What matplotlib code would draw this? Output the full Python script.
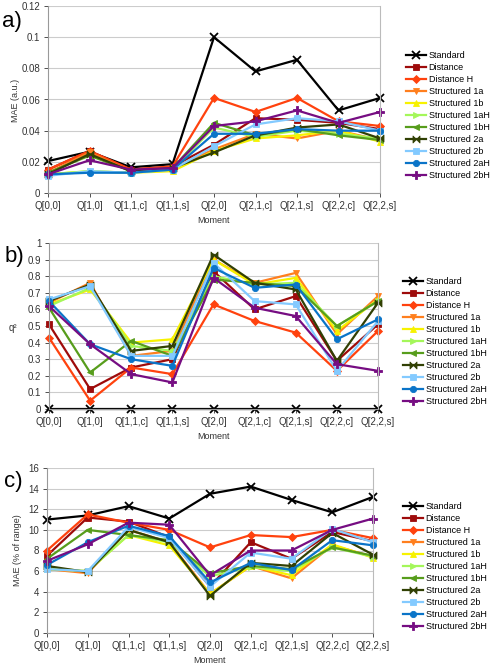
import matplotlib
matplotlib.use("Agg")
import matplotlib.pyplot as plt
from matplotlib.path import Path
from matplotlib.ticker import FuncFormatter

plt.rcParams["font.family"] = ["Liberation Sans", "DejaVu Sans"]

moments = ["Q[0,0]", "Q[1,0]", "Q[1,1,c]", "Q[1,1,s]", "Q[2,0]",
           "Q[2,1,c]", "Q[2,1,s]", "Q[2,2,c]", "Q[2,2,s]"]
series_names = ["Standard", "Distance", "Distance H", "Structured 1a",
                "Structured 1b", "Structured 1aH", "Structured 1bH",
                "Structured 2a", "Structured 2b", "Structured 2aH",
                "Structured 2bH"]

# Panel a: MAE (a.u.)
mae_au = {
    "Standard":       [0.0205, 0.0265, 0.0165, 0.0185, 0.100, 0.078, 0.0855, 0.053, 0.061],
    "Distance":       [0.015, 0.027, 0.015, 0.017, 0.031, 0.048, 0.047, 0.045, 0.041],
    "Distance H":     [0.015, 0.027, 0.015, 0.017, 0.061, 0.052, 0.061, 0.046, 0.043],
    "Structured 1a":  [0.013, 0.026, 0.014, 0.016, 0.028, 0.038, 0.035, 0.040, 0.034],
    "Structured 1b":  [0.012, 0.014, 0.013, 0.014, 0.027, 0.035, 0.037, 0.040, 0.033],
    "Structured 1aH": [0.012, 0.014, 0.013, 0.015, 0.042, 0.036, 0.040, 0.038, 0.035],
    "Structured 1bH": [0.013, 0.024, 0.014, 0.016, 0.045, 0.037, 0.041, 0.037, 0.034],
    "Structured 2a":  [0.012, 0.025, 0.014, 0.016, 0.026, 0.037, 0.042, 0.044, 0.035],
    "Structured 2b":  [0.011, 0.014, 0.013, 0.015, 0.030, 0.044, 0.048, 0.046, 0.040],
    "Structured 2aH": [0.012, 0.013, 0.013, 0.015, 0.038, 0.038, 0.041, 0.040, 0.040],
    "Structured 2bH": [0.012, 0.021, 0.015, 0.016, 0.043, 0.046, 0.053, 0.045, 0.052],
}

# Panel b: q^2
q2 = {
    "Standard":       [0, 0, 0, 0, 0, 0, 0, 0, 0],
    "Distance":       [0.51, 0.12, 0.25, 0.30, 0.83, 0.60, 0.68, 0.29, 0.51],
    "Distance H":     [0.43, 0.05, 0.25, 0.21, 0.63, 0.53, 0.46, 0.23, 0.47],
    "Structured 1a":  [0.64, 0.76, 0.32, 0.35, 0.90, 0.76, 0.82, 0.45, 0.68],
    "Structured 1b":  [0.63, 0.72, 0.40, 0.42, 0.90, 0.75, 0.79, 0.47, 0.66],
    "Structured 1aH": [0.62, 0.73, 0.38, 0.35, 0.80, 0.75, 0.76, 0.50, 0.65],
    "Structured 1bH": [0.61, 0.22, 0.41, 0.32, 0.78, 0.76, 0.74, 0.50, 0.65],
    "Structured 2a":  [0.65, 0.75, 0.35, 0.38, 0.93, 0.76, 0.72, 0.29, 0.64],
    "Structured 2b":  [0.66, 0.74, 0.32, 0.32, 0.88, 0.65, 0.63, 0.23, 0.53],
    "Structured 2aH": [0.65, 0.39, 0.30, 0.26, 0.85, 0.73, 0.75, 0.42, 0.54],
    "Structured 2bH": [0.62, 0.39, 0.21, 0.16, 0.79, 0.61, 0.56, 0.27, 0.23],
}

# Panel c: MAE (% of range)
mae_pct = {
    "Standard":       [11.0, 11.4, 12.3, 11.1, 13.5, 14.2, 12.9, 11.7, 13.2],
    "Distance":       [7.5, 11.2, 10.8, 9.3, 4.5, 8.8, 7.2, 9.8, 8.9],
    "Distance H":     [8.0, 11.5, 10.7, 10.0, 8.3, 9.5, 9.3, 10.0, 9.2],
    "Structured 1a":  [6.2, 5.8, 10.0, 8.8, 3.8, 6.5, 5.3, 8.5, 7.4],
    "Structured 1b":  [6.3, 6.0, 9.5, 8.5, 3.8, 6.5, 5.6, 8.6, 7.3],
    "Structured 1aH": [6.2, 6.0, 9.5, 8.8, 5.5, 6.4, 6.0, 8.3, 7.4],
    "Structured 1bH": [7.2, 10.0, 9.5, 9.0, 5.8, 6.5, 6.2, 8.3, 7.5],
    "Structured 2a":  [6.5, 5.9, 10.0, 8.8, 3.6, 6.8, 6.5, 9.7, 7.6],
    "Structured 2b":  [6.2, 6.0, 10.3, 9.2, 4.5, 7.8, 7.2, 10.1, 8.8],
    "Structured 2aH": [6.6, 8.8, 10.4, 9.4, 4.9, 6.8, 6.1, 9.0, 8.5],
    "Structured 2bH": [7.0, 8.6, 10.7, 10.5, 5.6, 8.0, 8.0, 10.0, 11.1],
}

colors = {
    "Standard": "#000000",
    "Distance": "#9e0b0b",
    "Distance H": "#ff420e",
    "Structured 1a": "#ff7f1e",
    "Structured 1b": "#f7f200",
    "Structured 1aH": "#a4f75a",
    "Structured 1bH": "#579d1c",
    "Structured 2a": "#314004",
    "Structured 2b": "#83caff",
    "Structured 2aH": "#0a74c8",
    "Structured 2bH": "#760d82",
}

bowtie = Path([(-1, -1), (0, 0), (-1, 1), (-1, -1), (1, -1), (0, 0), (1, 1), (1, -1)],
              [Path.MOVETO, Path.LINETO, Path.LINETO, Path.CLOSEPOLY,
               Path.MOVETO, Path.LINETO, Path.LINETO, Path.CLOSEPOLY])
markers = {
    "Standard": "x",
    "Distance": "s",
    "Distance H": "D",
    "Structured 1a": "v",
    "Structured 1b": "^",
    "Structured 1aH": ">",
    "Structured 1bH": "<",
    "Structured 2a": bowtie,
    "Structured 2b": "s",
    "Structured 2aH": "o",
    "Structured 2bH": "P",
}
msizes = {"Standard": 6, "Distance H": 4, "Structured 2bH": 5.5, "Structured 2a": 5}

fig = plt.figure(figsize=(4.92, 6.67), dpi=100)

# (data, plot box px, ymax, ystep, ylabel, rotated, ylabel pos px, tag, tag pos, legend pos)
panels = [
    (mae_au, [48, 6, 380, 193], 0.12, 0.02, "MAE (a.u.)", True, (15, 100),
     "a)", (12, 22), (406, 51)),
    (q2, [49, 243, 378, 409], 1.0, 0.1, "q²", False, (13, 328),
     "b)", (14, 256), (403, 277)),
    (mae_pct, [47, 468, 373, 633], 16, 2, "MAE (% of range)", True, (18, 550),
     "c)", (13, 481), (403, 502)),
]

W, H = 492, 667
x = list(range(len(moments)))
for data, (x0, y0, x1, y1), ymax, ystep, ylab, rot, ylpos, tag, tpos, lpos in panels:
    ax = fig.add_axes([x0 / W, 1 - y1 / H, (x1 - x0) / W, (y1 - y0) / H])
    for name in series_names:
        ax.plot(x, data[name], color=colors[name], marker=markers[name],
                markersize=msizes.get(name, 4.5), linewidth=1.6,
                markeredgewidth=1.3 if name == "Standard" else 0.6,
                markeredgecolor=colors[name], label=name, clip_on=False)
    ax.set_xlim(0, len(moments) - 1)
    ax.set_ylim(0, ymax)
    n = int(round(ymax / ystep))
    ax.set_yticks([i * ystep for i in range(n + 1)])
    ax.yaxis.set_major_formatter(FuncFormatter(lambda v, p: "%g" % round(v, 4)))
    ax.set_xticks(x)
    ax.set_xticklabels(moments)
    ax.tick_params(labelsize=7, colors="#333333", length=3, width=0.6, pad=2.5)
    ax.grid(axis="y", color="#cccccc", linewidth=0.8)
    ax.set_axisbelow(True)
    for s in ax.spines.values():
        s.set_color("#bbbbbb")
        s.set_linewidth(0.8)
    ax.spines["left"].set_color("#999999")
    ax.spines["bottom"].set_color("#999999")
    ax.spines["top"].set_visible(False)
    ax.set_xlabel("Moment", fontsize=6.5, color="#333333", labelpad=4)
    ax.set_ylabel(ylab, fontsize=6.5 if rot else 7, color="#333333",
                  rotation=90 if rot else 0, va="center", ha="center")
    ax.yaxis.set_label_coords((ylpos[0] - x0) / (x1 - x0),
                              (y1 - ylpos[1]) / (y1 - y0))
    fig.text(tpos[0] / W, 1 - tpos[1] / H, tag, fontsize=16, ha="center",
             va="center")
    ax.legend(loc="upper left", bbox_to_anchor=(lpos[0] / W, 1 - lpos[1] / H),
              bbox_transform=fig.transFigure, frameon=False, fontsize=6.5,
              handlelength=2.2, handletextpad=0.3, labelspacing=0.33,
              borderpad=0, borderaxespad=0)

fig.savefig("out.png", dpi=100)
